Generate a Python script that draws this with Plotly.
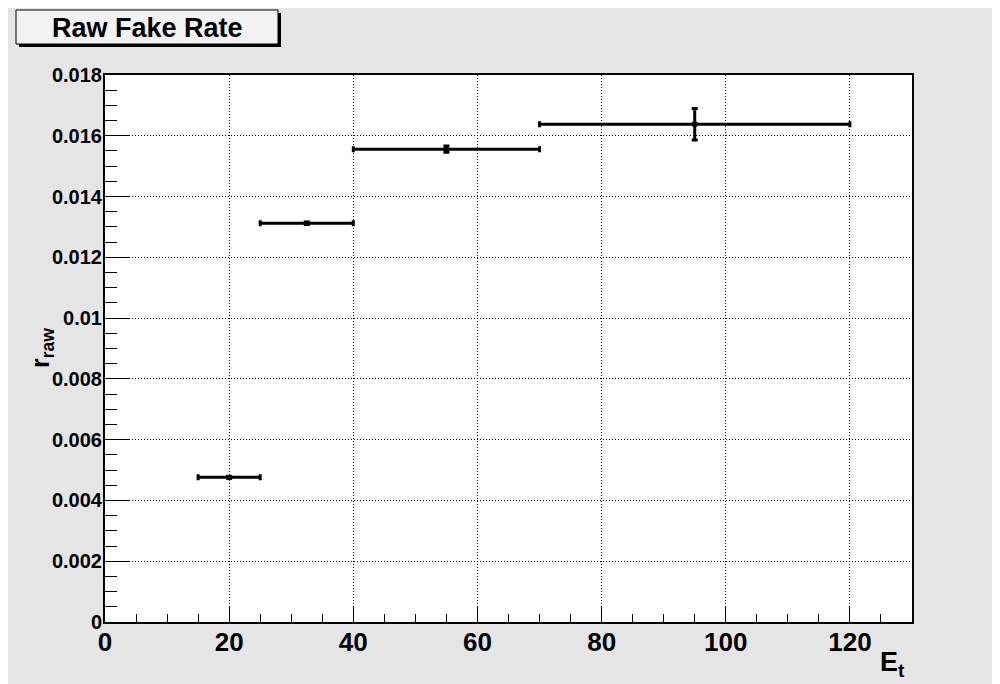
import plotly.graph_objects as go

# ---- data ----
bin_lo = [15, 25, 40, 70]
bin_hi = [25, 40, 70, 120]
x_center = [20, 32.5, 55, 95]
rate = [0.00476, 0.01312, 0.01556, 0.01638]
rate_err = [0.00003, 0.00004, 0.00010, 0.00052]

x_tickvals = [0, 20, 40, 60, 80, 100, 120]
x_ticktext = ["0", "20", "40", "60", "80", "100", "120"]
y_tickvals = [0, 0.002, 0.004, 0.006, 0.008, 0.01, 0.012, 0.014, 0.016, 0.018]
y_ticktext = ["0", "0.002", "0.004", "0.006", "0.008", "0.01", "0.012", "0.014", "0.016", "0.018"]

title_text = "Raw Fake Rate"
x_title = "E<sub>t</sub>"
y_title = "r<sub>raw</sub>"

# ---- layout geometry (screen pixels; page body has an 8px margin) ----
OFF = 8
W, H = 1000 - OFF, 684 - OFF
L, R, T, B = 105, 912, 75, 622          # plot area on screen
pw, ph = R - L, B - T


def px_x(p):
    return (p - L) / pw


def px_y(p):
    return (B - p) / ph


FONT = "Liberation Sans, Arial, Helvetica, sans-serif"
BG = "#e5e5e5"

err_minus = [c - lo for c, lo in zip(x_center, bin_lo)]
err_plus = [hi - c for c, hi in zip(x_center, bin_hi)]

fig = go.Figure()
fig.add_trace(go.Scatter(
    x=x_center, y=rate, mode="markers",
    marker=dict(symbol="square", size=5, color="black"),
    error_x=dict(type="data", symmetric=False, array=err_plus, arrayminus=err_minus,
                 color="black", thickness=3, width=3),
    error_y=dict(type="data", array=rate_err, color="black", thickness=3, width=3),
    showlegend=False,
))

axis_common = dict(
    showline=True, linecolor="black", linewidth=2, mirror=True,
    showgrid=True, gridcolor="black", gridwidth=1, griddash="1px,2px",
    zeroline=False, ticks="inside", tickcolor="black", tickwidth=1,
)

fig.update_xaxes(
    range=[0, 130], tickvals=x_tickvals, ticktext=x_ticktext, ticklen=16,
    tickfont=dict(family=FONT, size=26, color="black", weight="bold"),
    ticklabelstandoff=-4,
    minor=dict(dtick=5, tick0=0, ticks="inside", ticklen=8, tickcolor="black", tickwidth=1, showgrid=False),
    **axis_common,
)
fig.update_yaxes(
    range=[0, 0.018], tickvals=y_tickvals, ticktext=y_ticktext, ticklen=24,
    tickfont=dict(family=FONT, size=20, color="black", weight="bold"),
    ticklabelstandoff=-3,
    minor=dict(dtick=0.0005, tick0=0, ticks="inside", ticklen=12, tickcolor="black", tickwidth=1, showgrid=False),
    **axis_common,
)

shapes = [
    # title box shadow and box
    dict(type="rect", xref="paper", yref="paper", x0=px_x(19), x1=px_x(281), y0=px_y(47), y1=px_y(13),
         fillcolor="black", line=dict(width=0)),
    dict(type="rect", xref="paper", yref="paper", x0=px_x(16), x1=px_x(278), y0=px_y(44), y1=px_y(10),
         fillcolor="#f2f2f2", line=dict(color="black", width=1)),
]

annotations = [
    dict(text=title_text, xref="paper", yref="paper", x=px_x(147), y=px_y(28),
         xanchor="center", yanchor="middle", showarrow=False,
         font=dict(family=FONT, size=27, color="black", weight="bold")),
    dict(text=x_title, xref="paper", yref="paper", x=px_x(907), y=px_y(664),
         xanchor="right", yanchor="middle", showarrow=False,
         font=dict(family=FONT, size=27, color="black", weight="bold")),
    dict(text=y_title, xref="paper", yref="paper", x=px_x(42), y=px_y(348),
         xanchor="center", yanchor="middle", showarrow=False, textangle=-90,
         font=dict(family=FONT, size=25, color="black", weight="bold")),
]

fig.update_layout(
    width=W, height=H,
    margin=dict(l=L - OFF, r=W - (R - OFF), t=T - OFF, b=H - (B - OFF), autoexpand=False),
    paper_bgcolor=BG, plot_bgcolor="white",
    shapes=shapes, annotations=annotations,
)

fig.write_html("out.html")
